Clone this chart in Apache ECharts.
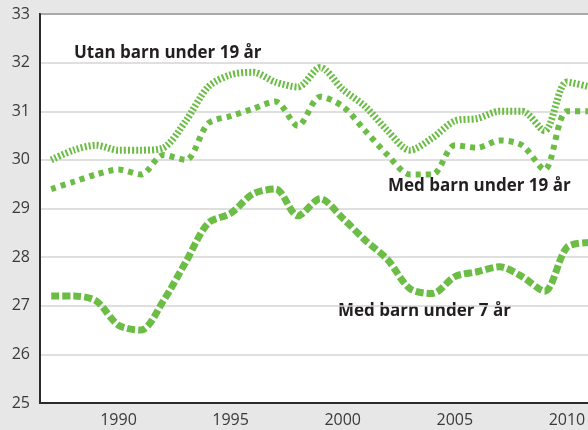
<!DOCTYPE html>
<html>
<head>
<meta charset="utf-8">
<script src="https://cdn.jsdelivr.net/npm/echarts@6/dist/echarts.min.js"></script>
<style>
  html, body { margin: 0; padding: 0; background: #e6e7e6; overflow: hidden; }
  /* chart is wider than the window: the right part is cut off like in the original */
  #chart { width: 623px; height: 430px; }
</style>
</head>
<body>
<div id="chart"></div>
<script>
// år 1987–2012 (2012 ligger utanför bilden)
const years = ['1987', '1988', '1989', '1990', '1991', '1992', '1993', '1994', '1995', '1996',
  '1997', '1998', '1999', '2000', '2001', '2002', '2003', '2004', '2005', '2006',
  '2007', '2008', '2009', '2010', '2011', '2012']

const utanBarn19 = [30.0, 30.2, 30.3, 30.2, 30.2, 30.25, 30.8, 31.5, 31.75, 31.8,
  31.6, 31.5, 31.9, 31.45, 31.1, 30.6, 30.2, 30.45, 30.8, 30.85,
  31.0, 31.0, 30.6, 31.6, 31.5]

const medBarn19 = [29.4, 29.55, 29.7, 29.8, 29.7, 30.1, 30.0, 30.75, 30.9, 31.05,
  31.2, 30.7, 31.3, 31.1, 30.6, 30.1, 29.7, 29.7, 30.3, 30.25,
  30.4, 30.3, 29.8, 31.0, 31.0]

const medBarn7 = [27.2, 27.2, 27.1, 26.6, 26.5, 27.1, 27.9, 28.7, 28.9, 29.3,
  29.4, 28.85, 29.2, 28.8, 28.35, 27.95, 27.35, 27.25, 27.6, 27.7,
  27.8, 27.6, 27.3, 28.2, 28.3]

const green = '#6cbd45'
const textDark = '#231f20'
const labelFont = '"Open Sans", "Noto Sans", sans-serif'

const chart = echarts.init(document.getElementById('chart'))

chart.setOption({
  backgroundColor: '#e6e7e6',
  animation: false,
  grid: {
    left: 40,
    top: 14,
    bottom: 27,
    right: 0,
    show: true,
    backgroundColor: '#fff',
    borderColor: '#2b2b2b',
    borderWidth: 2
  },
  xAxis: {
    type: 'category',
    data: years,
    boundaryGap: true,
    axisLine: { lineStyle: { color: '#2b2b2b', width: 2 } },
    axisTick: {
      alignWithLabel: true,
      inside: true,
      length: 9,
      lineStyle: { color: '#cfcfcf', width: 1 }
    },
    axisLabel: {
      interval: (i, v) => Number(v) % 5 === 0,
      color: '#3a3a3a',
      fontSize: 16,
      fontFamily: labelFont,
      margin: 9
    },
    splitLine: { show: false }
  },
  yAxis: {
    type: 'value',
    min: 25,
    max: 33,
    interval: 1,
    axisLine: { show: true, lineStyle: { color: '#2b2b2b', width: 2 } },
    axisTick: { show: false },
    axisLabel: {
      color: '#3a3a3a',
      fontSize: 16,
      fontFamily: labelFont,
      margin: 10
    },
    splitLine: { lineStyle: { color: '#d4d4d4', width: 1.5 } }
  },
  series: [
    {
      name: 'Utan barn under 19 år',
      type: 'line',
      data: utanBarn19,
      smooth: 0.3,
      symbol: 'none',
      lineStyle: { color: green, width: 7, type: [2, 2] }
    },
    {
      name: 'Med barn under 19 år',
      type: 'line',
      data: medBarn19,
      smooth: 0.3,
      symbol: 'none',
      lineStyle: { color: green, width: 6, type: [5, 5] }
    },
    {
      name: 'Med barn under 7 år',
      type: 'line',
      data: medBarn7,
      smooth: 0.3,
      symbol: 'none',
      lineStyle: { color: green, width: 7, type: [8, 3] }
    }
  ],
  graphic: [
    {
      type: 'text', left: 74, top: 45,
      style: { text: 'Utan barn under 19 år', fill: textDark, font: 'bold 17px ' + labelFont }
    },
    {
      type: 'text', left: 388, top: 178,
      style: { text: 'Med barn under 19 år', fill: textDark, font: 'bold 17px ' + labelFont }
    },
    {
      type: 'text', left: 338, top: 303,
      style: { text: 'Med barn under 7 år', fill: textDark, font: 'bold 17px ' + labelFont }
    }
  ]
})
</script>
</body>
</html>
